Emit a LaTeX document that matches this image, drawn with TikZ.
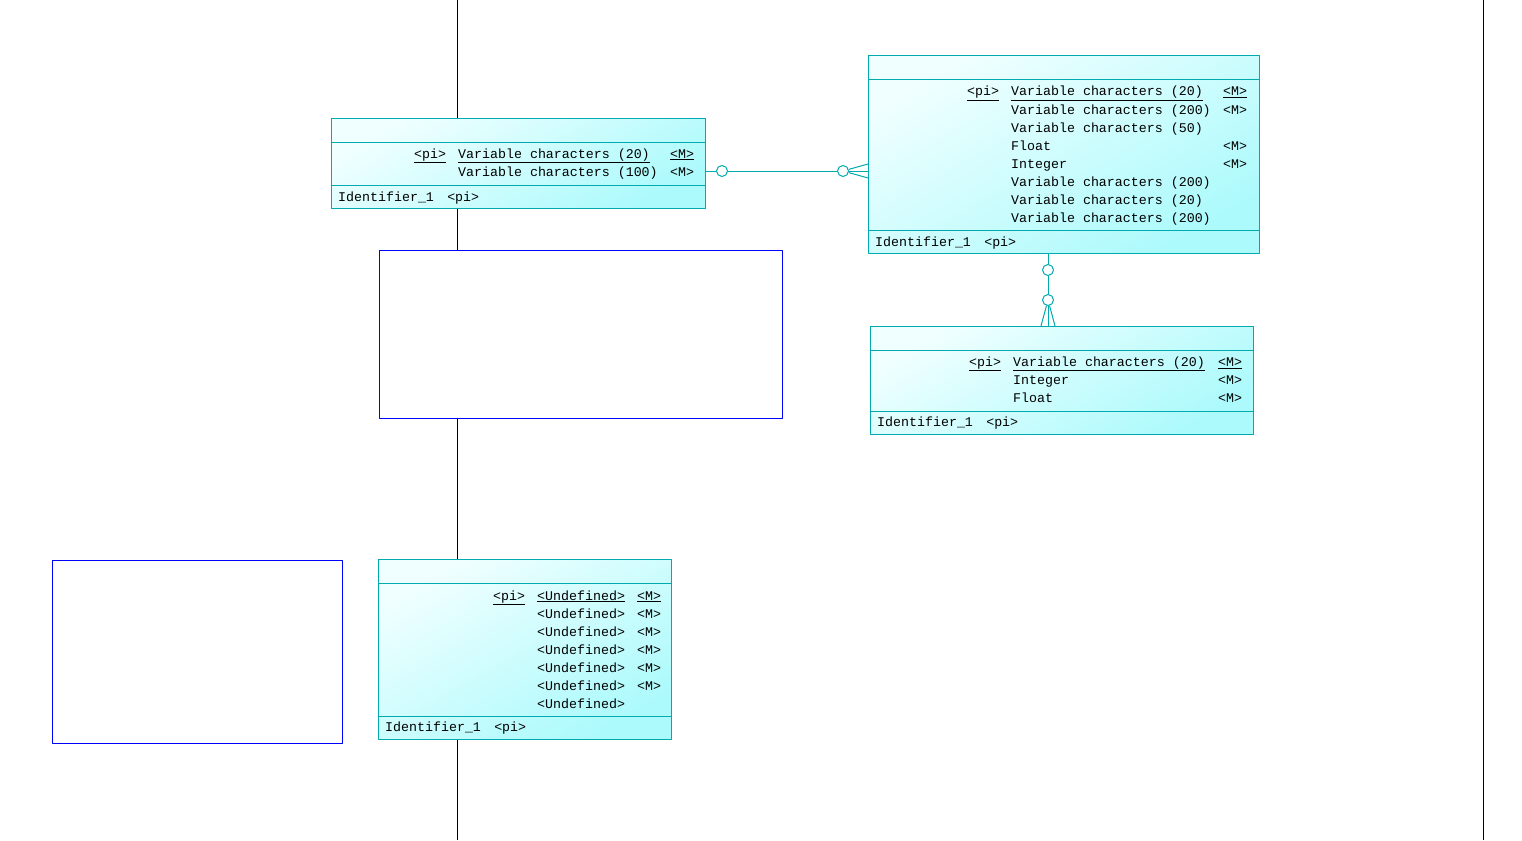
\documentclass[tikz,border=0pt]{standalone}
\usepackage{fontspec}
\setmonofont{Liberation Mono}
\usetikzlibrary{positioning}
\definecolor{erline}{RGB}{0,170,175}
\definecolor{erlight}{RGB}{240,255,255}
\definecolor{erdark}{RGB}{172,250,252}
\definecolor{noteblue}{RGB}{0,0,255}

\begin{document}
\begin{tikzpicture}[
        x = 1pt, y = -1pt,
        line join=round,
        entity/.style = {draw=erline, line width=1pt, top color=erlight, bottom color=erdark, shading angle=30, anchor=north west, inner sep=0pt},
        notebox/.style = {draw=noteblue, line width=1pt, fill=white, anchor=north west, inner sep=0pt},
        attr/.style = {anchor=base west, inner sep=0pt, font=\ttfamily\fontsize{13.3}{16}\selectfont},
        sepline/.style = {draw=erline, line width=1pt},
        relline/.style = {draw=erline, line width=1pt},
        optcircle/.style = {circle, draw=erline, line width=1pt, fill=white, minimum size=11pt, inner sep=0pt},
        guide/.style = {black, line width=1pt}
    ]

    \fill[white] (0,0) rectangle (1522,840);
    \useasboundingbox (0,0) rectangle (1522,840);

    % vertical guide lines
    \coordinate (lefttop) at (457,0);
    \coordinate (leftbot) at (457,840);
    \coordinate (righttop) at (1483,0);
    \coordinate (rightbot) at (1483,840);
    \draw[guide] (lefttop) -- (leftbot);
    \draw[guide] (righttop) -- (rightbot);

    % notes
    \node[notebox, minimum width=403pt, minimum height=168pt] (note1) at (379,250) {};
    \node[notebox, minimum width=290pt, minimum height=183pt] (note2) at (52,560) {};

    % entity 1
    \node[entity, minimum width=374pt, minimum height=90pt] (ent1) at (331,118) {};
    \draw[sepline] ([yshift=-24pt]ent1.north west) -- ([yshift=-24pt]ent1.north east);
    \draw[sepline] ([yshift=24pt]ent1.south west) -- ([yshift=24pt]ent1.south east);
    \node[attr] (e1pi) at (414,158) {\underline{<pi>}};
    \node[attr] (e1t1) at (458,158) {\underline{Variable characters (20)}};
    \node[attr] (e1m1) at (670,158) {\underline{<M>}};
    \node[attr] (e1t2) at (458,176) {Variable characters (100)};
    \node[attr] (e1m2) at (670,176) {<M>};
    \node[attr] (e1id) at (338,201) {Identifier\_1\quad<pi>};

    % entity 2
    \node[entity, minimum width=391pt, minimum height=198pt] (ent2) at (868,55) {};
    \draw[sepline] ([yshift=-25pt]ent2.north west) -- ([yshift=-25pt]ent2.north east);
    \draw[sepline] ([yshift=24pt]ent2.south west) -- ([yshift=24pt]ent2.south east);
    \node[attr] (e2pi) at (967,96) {\underline{<pi>}};
    \node[attr] (e2t0) at (1011,96) {\underline{Variable characters (20)}};
    \node[attr] (e2m0) at (1223,96) {\underline{<M>}};
    \foreach \k/\type/\mand in {1/{Variable characters (200)}/{<M>},
                                2/{Variable characters (50)}/{},
                                3/{Float}/{<M>},
                                4/{Integer}/{<M>},
                                5/{Variable characters (200)}/{},
                                6/{Variable characters (20)}/{},
                                7/{Variable characters (200)}/{}}{
        \node[attr] (e2t\k) at (1011,96+18*\k) {\type};
        \node[attr] (e2m\k) at (1223,96+18*\k) {\mand};
    }
    \node[attr] (e2id) at (875,246) {Identifier\_1\quad<pi>};

    % entity 3
    \node[entity, minimum width=383pt, minimum height=108pt] (ent3) at (870,326) {};
    \draw[sepline] ([yshift=-24pt]ent3.north west) -- ([yshift=-24pt]ent3.north east);
    \draw[sepline] ([yshift=24pt]ent3.south west) -- ([yshift=24pt]ent3.south east);
    \node[attr] (e3pi) at (969,366.5) {\underline{<pi>}};
    \node[attr] (e3t0) at (1013,366.5) {\underline{Variable characters (20)}};
    \node[attr] (e3m0) at (1218,366.5) {\underline{<M>}};
    \node[attr] (e3t1) at (1013,384.5) {Integer};
    \node[attr] (e3m1) at (1218,384.5) {<M>};
    \node[attr] (e3t2) at (1013,402.5) {Float};
    \node[attr] (e3m2) at (1218,402.5) {<M>};
    \node[attr] (e3id) at (877,426.5) {Identifier\_1\quad<pi>};

    % entity 4
    \node[entity, minimum width=293pt, minimum height=180pt] (ent4) at (378,559) {};
    \draw[sepline] ([yshift=-24pt]ent4.north west) -- ([yshift=-24pt]ent4.north east);
    \draw[sepline] ([yshift=24pt]ent4.south west) -- ([yshift=24pt]ent4.south east);
    \node[attr] (e4pi) at (493,600) {\underline{<pi>}};
    \node[attr] (e4t0) at (537,600) {\underline{<Undefined>}};
    \node[attr] (e4m0) at (637,600) {\underline{<M>}};
    \foreach \k in {1,...,5}{
        \node[attr] (e4t\k) at (537,600+18*\k) {<Undefined>};
        \node[attr] (e4m\k) at (637,600+18*\k) {<M>};
    }
    \node[attr] (e4t6) at (537,708) {<Undefined>};
    \node[attr] (e4id) at (385,731.5) {Identifier\_1\quad<pi>};

    % relationship ent1 -- ent2
    \node[optcircle] (r1a) at (722,171) {};
    \node[optcircle] (r1b) at (843,171) {};
    \coordinate (r1up) at (868,164);
    \coordinate (r1dn) at (868,178);
    \draw[relline] (ent1.east |- r1a) -- (r1a) -- (r1b) -- (ent2.west |- r1b);
    \draw[relline] (r1b) -- (r1up);
    \draw[relline] (r1b) -- (r1dn);

    % relationship ent2 -- ent3
    \node[optcircle] (r2a) at (1048,270) {};
    \node[optcircle] (r2b) at (1048,300) {};
    \coordinate (r2lt) at (1041,326);
    \coordinate (r2rt) at (1055,326);
    \draw[relline] (ent2.south -| r2a) -- (r2a) -- (r2b) -- (ent3.north -| r2b);
    \draw[relline] (r2b) -- (r2lt);
    \draw[relline] (r2b) -- (r2rt);
\end{tikzpicture}
\end{document}
